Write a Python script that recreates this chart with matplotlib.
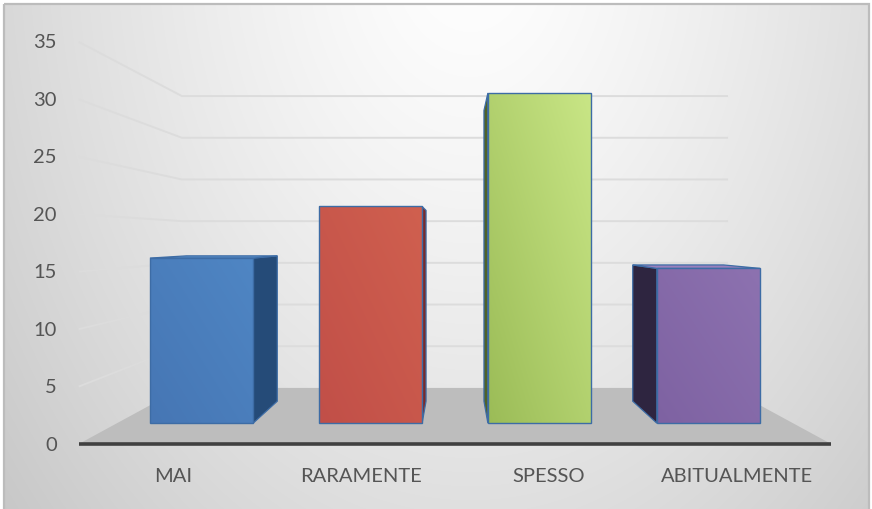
import numpy as np
import matplotlib
matplotlib.use("Agg")
import matplotlib.pyplot as plt
from matplotlib.patches import Polygon, Rectangle
from matplotlib.colors import to_rgb

categories = ["MAI", "RARAMENTE", "SPESSO", "ABITUALMENTE"]
values = [16, 21, 32, 15]
tick_values = [0, 5, 10, 15, 20, 25, 30, 35]

# front-face shading per series (dark corner -> light corner) and side faces
face_dark = ["#4676b4", "#c14f48", "#9bbc57", "#7e62a2"]
face_light = ["#4f86c4", "#d0604f", "#c9e686", "#8d72b0"]
side_colors = ["#254b78", "#7a2a2a", "#4f6228", "#2e2540"]
top_colors = ["#5a8fcb", "#d8705f", "#d2ec96", "#9a80bd"]
edge_color = "#3d6ca5"
text_color = "#555555"

W, H = 872, 510
fig = plt.figure(figsize=(W / 100, H / 100), dpi=100)
fig.patch.set_facecolor("white")
ax = fig.add_axes([0, 0, 1, 1])

# simple pinhole camera looking straight at the back wall
cx, horizon, eye = 455.0, 240.5, 17.8
focal = 11.49
z_front, z_back = 1.0, 1.378
half_w = 32.75
n = len(categories)
slot = 2 * half_w / n
bar_w = 10.0
bar_z0 = z_front + 0.30 * (z_back - z_front)
bar_z1 = z_front + 0.70 * (z_back - z_front)


def proj(X, Z, V):
    s = focal / Z
    return cx + X * s, horizon + (eye - V) * s


# chart area background: soft radial gradient
x0, x1, y0, y1 = 4, 869, 5, 510
yy, xx = np.mgrid[y0:y1, x0:x1] + 0.5
d = np.hypot(xx - 470, (yy + 60) * 0.7)
g = 1 - 0.22 * np.clip(d / 620, 0, 1) ** 1.3
ax.imshow(np.dstack([g, g, g]), extent=(x0, x1, y1, y0), zorder=0,
          interpolation="bilinear")
ax.add_patch(Rectangle((x0, y0), x1 - x0, y1 - y0 + 5, fill=False,
                       edgecolor="#bcbcbc", lw=1.6, zorder=10))

# floor
floor = [proj(-half_w, z_front, 0), proj(half_w, z_front, 0),
         proj(half_w, z_back, 0), proj(-half_w, z_back, 0)]
ax.add_patch(Polygon(floor, closed=True, facecolor="#bdbdbd",
                     edgecolor="none", zorder=1))

# gridlines on the back and left walls
for v in tick_values[1:]:
    bx0, by0 = proj(-half_w, z_back, v)
    bx1, by1 = proj(half_w, z_back, v)
    fx, fy = proj(-half_w, z_front, v)
    ax.plot([fx, bx0, bx1], [fy, by0, by1], color="#dcdcdc", lw=1.4,
            zorder=2, solid_capstyle="butt")

# category axis line along the front edge of the floor
ax.plot([floor[0][0], floor[1][0]], [floor[0][1], floor[1][1]],
        color="#404040", lw=2.6, zorder=3, solid_capstyle="butt")

# value tick labels on the front-left edge
for v in tick_values:
    tx, ty = proj(-half_w, z_front, v)
    ax.text(tx - 22, ty, str(v), ha="right", va="center", fontsize=14.5,
            color=text_color, family="Lato", zorder=5)

# bars
for i, (cat, v) in enumerate(zip(categories, values)):
    xc = -half_w + (i + 0.5) * slot
    xl, xr = xc - bar_w / 2, xc + bar_w / 2

    if xr < 0:
        side = [proj(xr, bar_z0, 0), proj(xr, bar_z1, 0),
                proj(xr, bar_z1, v), proj(xr, bar_z0, v)]
    else:
        side = [proj(xl, bar_z0, 0), proj(xl, bar_z1, 0),
                proj(xl, bar_z1, v), proj(xl, bar_z0, v)]
    ax.add_patch(Polygon(side, closed=True, facecolor=side_colors[i],
                         edgecolor=edge_color, lw=0.9, zorder=4))

    if v < eye:
        top = [proj(xl, bar_z0, v), proj(xr, bar_z0, v),
               proj(xr, bar_z1, v), proj(xl, bar_z1, v)]
        ax.add_patch(Polygon(top, closed=True, facecolor=top_colors[i],
                             edgecolor=edge_color, lw=0.9, zorder=4))

    front = [proj(xl, bar_z0, 0), proj(xr, bar_z0, 0),
             proj(xr, bar_z0, v), proj(xl, bar_z0, v)]
    fxs = [p[0] for p in front]
    fys = [p[1] for p in front]
    left, right = min(fxs), max(fxs)
    topy, boty = min(fys), max(fys)
    # diagonal shading: lightest towards the top-right corner
    u = np.linspace(0, 1, 64)[None, :]
    w = np.linspace(0, 1, 128)[:, None]
    t = (u + (1 - w)) / 2
    c0, c1 = np.array(to_rgb(face_dark[i])), np.array(to_rgb(face_light[i]))
    img = c0[None, None, :] + t[:, :, None] * (c1 - c0)[None, None, :]
    im = ax.imshow(img, extent=(left, right, boty, topy), zorder=5,
                   interpolation="bilinear")
    fp = Polygon(front, closed=True, facecolor="none", edgecolor=edge_color,
                 lw=1.0, zorder=6)
    ax.add_patch(fp)
    im.set_clip_path(fp)

    lx, ly = proj(xc, z_front, 0)
    ax.text(lx, ly + 31, cat, ha="center", va="center", fontsize=14.5,
            color=text_color, family="Lato", zorder=5)

ax.set_xlim(0, W)
ax.set_ylim(H, 0)
ax.set_aspect("auto")
ax.axis("off")
fig.savefig("out.png", dpi=100, facecolor=fig.get_facecolor())
